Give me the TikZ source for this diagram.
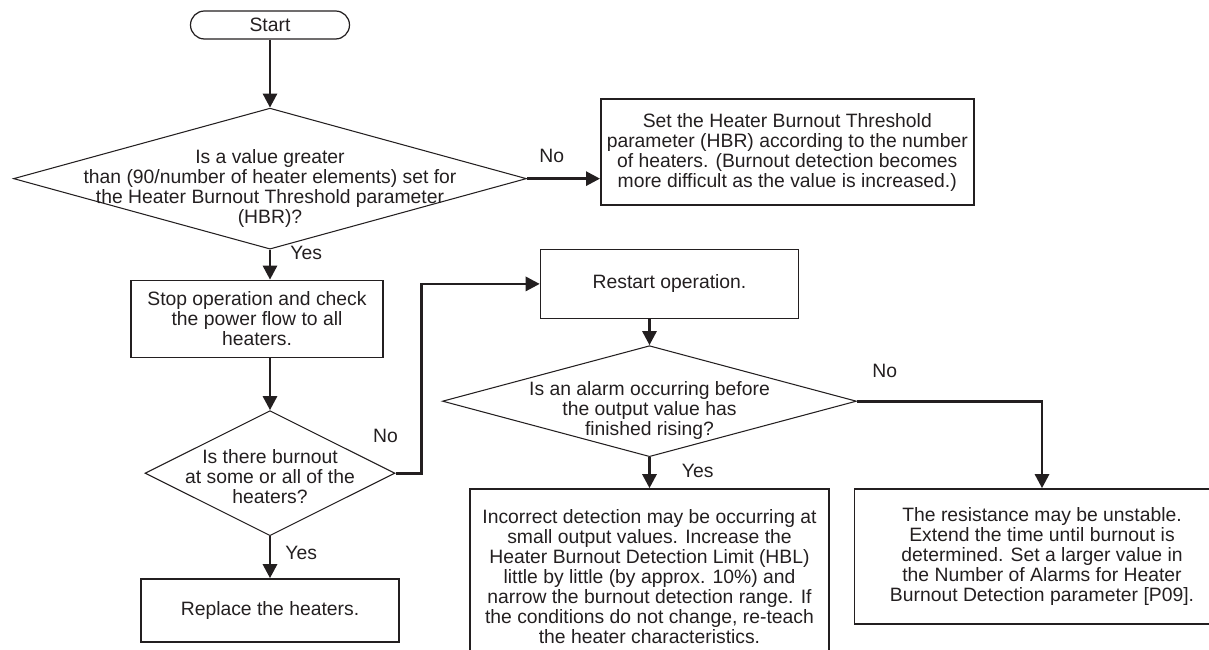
\documentclass[tikz,border=0pt]{standalone}
\usepackage{fontspec}
\setmainfont{Liberation Sans}
\usepackage{xcolor}
\usepackage{tikz}
\usetikzlibrary{positioning, shapes.geometric, arrows.meta}

\definecolor{ink}{HTML}{231F20}

\begin{document}
\begin{tikzpicture}[
    font=\fontsize{11}{11.4}\selectfont,
    color=ink,
    box/.style={draw, line width=0.85pt, align=center, inner sep=0.1cm},
    terminal/.style={draw, line width=0.7pt, rounded corners=0.28cm, minimum width=3.18cm, minimum height=0.56cm},
    decision/.style={draw, diamond, line width=0.6pt, inner sep=0pt},
    dtext/.style={align=center, inner sep=0pt},
    lbl/.style={inner sep=0pt},
    arrow/.style={-{Triangle[length=0.28cm, width=0.28cm]}, line width=1.6pt}
  ]
    \useasboundingbox (-5.4,0.5) rectangle (18.78,-12.5);

    \node[terminal] (start) {Start};
    \node[decision, minimum width=10.26cm, minimum height=2.82cm, below=1.36cm of start,
      label={[dtext, yshift=-0.2cm]center:{Is a value greater\\than (90/number of heater elements) set for\\the Heater Burnout Threshold parameter\\(HBR)?}}] (dec1) {};
    \node[box, minimum width=7.46cm, minimum height=2.12cm, right=1.46cm of dec1.east, yshift=0.53cm] (hbr)
      {Set the Heater Burnout Threshold\\parameter (HBR) according to the number\\of heaters. (Burnout detection becomes\\more difficult as the value is increased.)};
    \node[box, minimum width=5.04cm, minimum height=1.54cm, below=0.6cm of dec1, xshift=-0.26cm] (stop)
      {Stop operation and check\\the power flow to all\\heaters.};
    \node[decision, minimum width=5cm, minimum height=2.5cm, below=1.04cm of stop, xshift=0.26cm,
      label={[dtext, yshift=-0.07cm]center:{Is there burnout\\at some or all of the\\heaters?}}] (dec2) {};
    \node[box, minimum width=5.16cm, minimum height=1.26cm, below=0.84cm of dec2] (replace) {Replace the heaters.};
    \node[box, minimum width=5.16cm, minimum height=1.38cm, right=3.12cm of stop.east, yshift=0.7cm] (restart) {Restart operation.};
    \node[decision, minimum width=8.28cm, minimum height=2.22cm, below=0.52cm of restart, xshift=-0.4cm,
      label={[dtext, yshift=-0.18cm]center:{Is an alarm occurring before\\the output value has\\finished rising?}}] (dec3) {};
    \node[box, minimum width=7.18cm, minimum height=3.5cm, below=0.62cm of dec3] (incorrect)
      {Incorrect detection may be occurring at\\small output values. Increase the\\Heater Burnout Detection Limit (HBL)\\little by little (by approx. 10\%) and\\narrow the burnout detection range. If\\the conditions do not change, re-teach\\the heater characteristics.};
    \coordinate[right=3.7cm of dec3.east] (turn);
    \node[box, minimum width=7.5cm, minimum height=2.7cm, below=1.74cm of turn] (resist)
      {The resistance may be unstable.\\Extend the time until burnout is\\determined. Set a larger value in\\the Number of Alarms for Heater\\Burnout Detection parameter [P09].};
    \node[lbl, above=0.6cm of dec2.east, xshift=-0.2cm] (no2) {No};

    \draw[arrow] (start) -- (dec1);
    \draw[arrow] (dec1.east) -- node[lbl, above=0.29cm, pos=0.34]{No} (dec1.east -| hbr.west);
    \draw[arrow] (dec1.south) -- node[lbl, right=0.38cm, pos=0.1]{Yes} (dec1.south |- stop.north);
    \draw[arrow] (dec2.north |- stop.south) -- (dec2.north);
    \draw[arrow] (dec2.east) -- ++(0.52,0) |- (restart.west);
    \draw[arrow] (dec2.south) -- node[lbl, right=0.28cm, pos=0.4]{Yes} (replace);
    \draw[arrow] (dec3.north |- restart.south) -- (dec3.north);
    \draw[arrow] (dec3.south) -- node[lbl, right=0.62cm, pos=0.45]{Yes} (incorrect);
    \draw[arrow] (dec3.east) -- node[lbl, above=0.44cm, pos=0.15]{No} (turn) -- (resist);
  \end{tikzpicture}
\end{document}
